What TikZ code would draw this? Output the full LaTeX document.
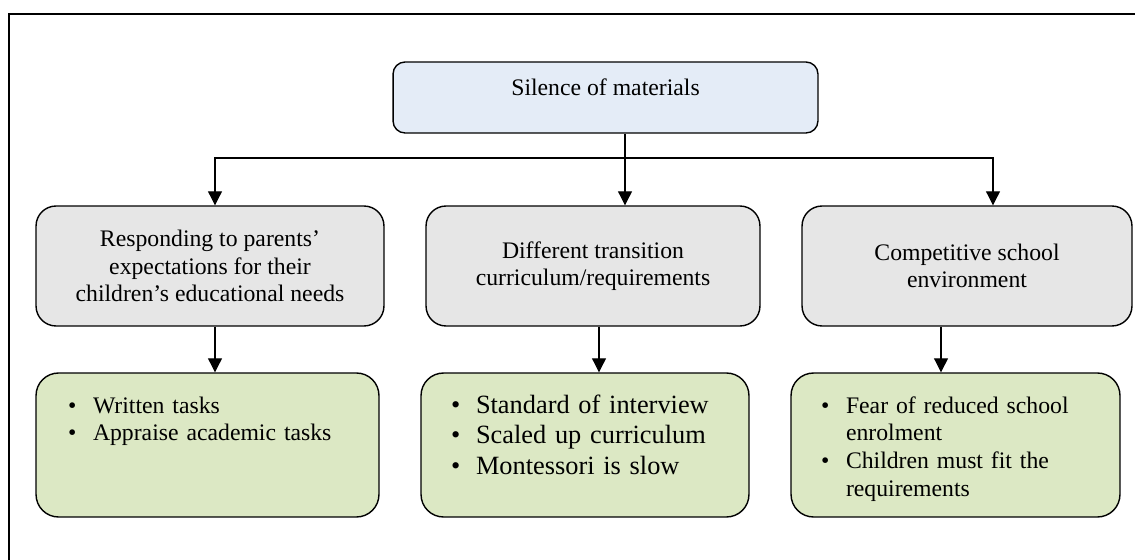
\documentclass[tikz,border=0pt]{standalone}
\usepackage{fontspec}
\setmainfont{Liberation Serif}
\usetikzlibrary{arrows.meta}
\definecolor{topblue}{HTML}{E4ECF7}
\definecolor{midgray}{HTML}{E6E6E6}
\definecolor{lowgreen}{HTML}{DCE8C4}
\newcommand{\blt}{\makebox[0.5cm][l]{\textbullet}}
\newcommand{\hng}{\hspace*{0.5cm}}
\tikzset{
	topbox/.style={draw, line width=0.8pt, fill=topblue, rounded corners=0.24cm, minimum width=8.5cm, inner ysep=0pt, text height=0.68cm, text depth=0.74cm, font=\fontsize{13.5}{15.6}\selectfont},
	midbox/.style={draw, line width=0.8pt, fill=midgray, rounded corners=0.4cm, minimum height=2.4cm, align=center, font=\fontsize{13.5}{15.6}\selectfont},
	lowbox/.style={draw, line width=0.8pt, fill=lowgreen, rounded corners=0.45cm, inner xsep=0.6cm, inner ysep=0pt, text height=0.8cm, text depth=2.08cm, align=left, font=\fontsize{13.5}{15.8}\selectfont},
	arr/.style={-{Triangle[width=0.28cm,length=0.28cm]}, line width=0.6pt}
}
\begin{document}
\begin{tikzpicture}[x=0.02cm, y=-0.02cm]
	\useasboundingbox (0,0) rectangle (1135,560);
	% outer frame (cut at the right and bottom)
	\draw[line width=1.1pt] (9,560) -- (9,14) -- (1135,14);
	
	% top
	\node[topbox] (top) at (605.5,97.5) {Silence of materials};
	
	% middle row
	\node[midbox, minimum width=6.96cm] (midA) at (210,266) {Responding to parents'\\expectations for their\\children's educational needs};
	\node[midbox, minimum width=6.68cm] (midB) at (593,266) {Different transition\\curriculum/requirements};
	\node[midbox, minimum width=6.6cm] (midC) at (967,266) {Competitive school\\environment};
	
	% bottom row
	\node[lowbox, inner xsep=0.64cm, text width=5.58cm] (lowA) at (207.5,445) {\blt Written tasks\\\blt Appraise academic tasks};
	\node[lowbox, text width=5.36cm, font=\fontsize{15}{17.6}\selectfont] (lowB) at (585,445) {\blt Standard of interview\\\blt Scaled up curriculum\\\blt Montessori is slow};
	\node[lowbox, text width=5.38cm] (lowC) at (955.5,445) {\blt Fear of reduced school\\\hng enrolment\\\blt Children must fit the\\\hng requirements};
	
	% connectors
	\coordinate (split) at (625,158);
	\draw[line width=0.6pt] (top.south -| split) -- (split);
	\draw[arr] (split) -| ([xshift=0.1cm]midA.north);
	\draw[arr] (split) -- (midB.north -| split);
	\draw[arr] (split) -| ([xshift=0.52cm]midC.north);
	
	\coordinate (dA) at ([xshift=0.1cm]midA.south);
	\coordinate (dB) at ([xshift=0.12cm]midB.south);
	\coordinate (dC) at ([xshift=-0.52cm]midC.south);
	\draw[arr] (dA) -- (dA |- lowA.north);
	\draw[arr] (dB) -- (dB |- lowB.north);
	\draw[arr] (dC) -- (dC |- lowC.north);
\end{tikzpicture}
\end{document}
